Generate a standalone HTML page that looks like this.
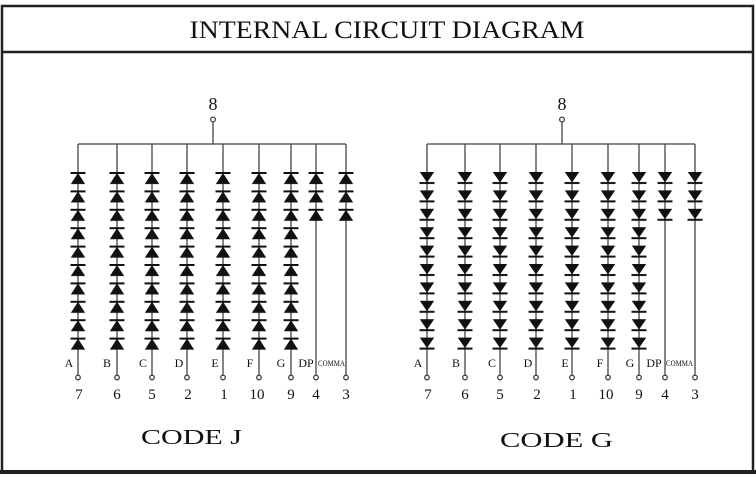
<!DOCTYPE html>
<html><head><meta charset="utf-8"><style>
html,body{margin:0;padding:0;background:#fff;}
svg{display:block;}
text{font-family:"Liberation Serif",serif;fill:#111;}
</style></head><body>
<svg width="756" height="477" viewBox="0 0 756 477" xmlns="http://www.w3.org/2000/svg">
<defs>
<pattern id="dj" patternUnits="userSpaceOnUse" x="-8" y="0" width="16" height="18.4">
<rect x="0.5" y="0" width="15" height="2" fill="#111"/>
<polygon points="8,1 0.8,12 15.2,12" fill="#111"/>
</pattern>
<pattern id="dg" patternUnits="userSpaceOnUse" x="-8" y="0" width="16" height="18.4">
<polygon points="0.8,0 15.2,0 8,10.5" fill="#111"/>
<rect x="0.5" y="10" width="15" height="2" fill="#111"/>
</pattern>
</defs>
<rect x="0" y="0" width="756" height="477" fill="#fff"/>
<!-- frame -->
<rect x="2" y="6" width="751" height="466" fill="none" stroke="#222" stroke-width="2.5"/>
<line x1="2" y1="52" x2="753" y2="52" stroke="#222" stroke-width="2.5"/>
<line x1="0" y1="472" x2="756" y2="472" stroke="#222" stroke-width="4"/>
<text x="387" y="38" font-size="25" text-anchor="middle" textLength="395" lengthAdjust="spacingAndGlyphs">INTERNAL CIRCUIT DIAGRAM</text>

<g stroke="#444" stroke-width="1.3" fill="none">
<!-- left -->
<line x1="78" y1="144" x2="346" y2="144"/>
<line x1="213" y1="122" x2="213" y2="144"/>
<circle cx="213" cy="119.5" r="2.4" fill="#fff"/>
<line x1="78" y1="144" x2="78" y2="375"/>
<line x1="117" y1="144" x2="117" y2="375"/>
<line x1="152" y1="144" x2="152" y2="375"/>
<line x1="187" y1="144" x2="187" y2="375"/>
<line x1="223" y1="144" x2="223" y2="375"/>
<line x1="259" y1="144" x2="259" y2="375"/>
<line x1="291" y1="144" x2="291" y2="375"/>
<line x1="316" y1="144" x2="316" y2="375"/>
<line x1="346" y1="144" x2="346" y2="375"/>
<circle cx="78" cy="377.5" r="2.3" fill="#fff"/>
<circle cx="117" cy="377.5" r="2.3" fill="#fff"/>
<circle cx="152" cy="377.5" r="2.3" fill="#fff"/>
<circle cx="187" cy="377.5" r="2.3" fill="#fff"/>
<circle cx="223" cy="377.5" r="2.3" fill="#fff"/>
<circle cx="259" cy="377.5" r="2.3" fill="#fff"/>
<circle cx="291" cy="377.5" r="2.3" fill="#fff"/>
<circle cx="316" cy="377.5" r="2.3" fill="#fff"/>
<circle cx="346" cy="377.5" r="2.3" fill="#fff"/>
<!-- right -->
<line x1="427" y1="144" x2="695" y2="144"/>
<line x1="562" y1="122" x2="562" y2="144"/>
<circle cx="562" cy="119.5" r="2.4" fill="#fff"/>
<line x1="427" y1="144" x2="427" y2="375"/>
<line x1="465" y1="144" x2="465" y2="375"/>
<line x1="500" y1="144" x2="500" y2="375"/>
<line x1="536" y1="144" x2="536" y2="375"/>
<line x1="572" y1="144" x2="572" y2="375"/>
<line x1="608" y1="144" x2="608" y2="375"/>
<line x1="639" y1="144" x2="639" y2="375"/>
<line x1="665" y1="144" x2="665" y2="375"/>
<line x1="695" y1="144" x2="695" y2="375"/>
<circle cx="427" cy="377.5" r="2.3" fill="#fff"/>
<circle cx="465" cy="377.5" r="2.3" fill="#fff"/>
<circle cx="500" cy="377.5" r="2.3" fill="#fff"/>
<circle cx="536" cy="377.5" r="2.3" fill="#fff"/>
<circle cx="572" cy="377.5" r="2.3" fill="#fff"/>
<circle cx="608" cy="377.5" r="2.3" fill="#fff"/>
<circle cx="639" cy="377.5" r="2.3" fill="#fff"/>
<circle cx="665" cy="377.5" r="2.3" fill="#fff"/>
<circle cx="695" cy="377.5" r="2.3" fill="#fff"/>
</g>

<!-- diodes code J -->
<g transform="translate(78,172)"><rect x="-8" y="0" width="16" height="178" fill="url(#dj)"/></g>
<g transform="translate(117,172)"><rect x="-8" y="0" width="16" height="178" fill="url(#dj)"/></g>
<g transform="translate(152,172)"><rect x="-8" y="0" width="16" height="178" fill="url(#dj)"/></g>
<g transform="translate(187,172)"><rect x="-8" y="0" width="16" height="178" fill="url(#dj)"/></g>
<g transform="translate(223,172)"><rect x="-8" y="0" width="16" height="178" fill="url(#dj)"/></g>
<g transform="translate(259,172)"><rect x="-8" y="0" width="16" height="178" fill="url(#dj)"/></g>
<g transform="translate(291,172)"><rect x="-8" y="0" width="16" height="178" fill="url(#dj)"/></g>
<g transform="translate(316,172)"><rect x="-8" y="0" width="16" height="49" fill="url(#dj)"/></g>
<g transform="translate(346,172)"><rect x="-8" y="0" width="16" height="49" fill="url(#dj)"/></g>
<!-- diodes code G -->
<g transform="translate(427,172)"><rect x="-8" y="0" width="16" height="178" fill="url(#dg)"/></g>
<g transform="translate(465,172)"><rect x="-8" y="0" width="16" height="178" fill="url(#dg)"/></g>
<g transform="translate(500,172)"><rect x="-8" y="0" width="16" height="178" fill="url(#dg)"/></g>
<g transform="translate(536,172)"><rect x="-8" y="0" width="16" height="178" fill="url(#dg)"/></g>
<g transform="translate(572,172)"><rect x="-8" y="0" width="16" height="178" fill="url(#dg)"/></g>
<g transform="translate(608,172)"><rect x="-8" y="0" width="16" height="178" fill="url(#dg)"/></g>
<g transform="translate(639,172)"><rect x="-8" y="0" width="16" height="178" fill="url(#dg)"/></g>
<g transform="translate(665,172)"><rect x="-8" y="0" width="16" height="49" fill="url(#dg)"/></g>
<g transform="translate(695,172)"><rect x="-8" y="0" width="16" height="49" fill="url(#dg)"/></g>

<!-- labels -->
<text x="213" y="110" font-size="18" text-anchor="middle">8</text>
<text x="562" y="110" font-size="18" text-anchor="middle">8</text>
<g font-size="12" text-anchor="middle">
<text x="69" y="367">A</text><text x="107" y="367">B</text><text x="143" y="367">C</text><text x="179" y="367">D</text><text x="215" y="367">E</text><text x="250" y="367">F</text><text x="281" y="367">G</text><text x="306" y="367">DP</text>
<text x="418" y="367">A</text><text x="456" y="367">B</text><text x="492" y="367">C</text><text x="528" y="367">D</text><text x="565" y="367">E</text><text x="600" y="367">F</text><text x="630" y="367">G</text><text x="654" y="367">DP</text>
</g>
<text x="318" y="366" font-size="8" textLength="27" lengthAdjust="spacingAndGlyphs">COMMA</text>
<text x="666" y="366" font-size="8" textLength="27" lengthAdjust="spacingAndGlyphs">COMMA</text>
<g font-size="15" text-anchor="middle">
<text x="79" y="399">7</text><text x="117" y="399">6</text><text x="152" y="399">5</text><text x="188" y="399">2</text><text x="224" y="399">1</text><text x="257" y="399">10</text><text x="291" y="399">9</text><text x="316" y="399">4</text><text x="346" y="399">3</text>
<text x="428" y="399">7</text><text x="465" y="399">6</text><text x="500" y="399">5</text><text x="537" y="399">2</text><text x="573" y="399">1</text><text x="606" y="399">10</text><text x="639" y="399">9</text><text x="665" y="399">4</text><text x="695" y="399">3</text>
</g>
<text x="141" y="444" font-size="21" textLength="101" lengthAdjust="spacingAndGlyphs">CODE J</text>
<text x="500" y="447" font-size="21" textLength="113" lengthAdjust="spacingAndGlyphs">CODE G</text>
</svg>
</body></html>
